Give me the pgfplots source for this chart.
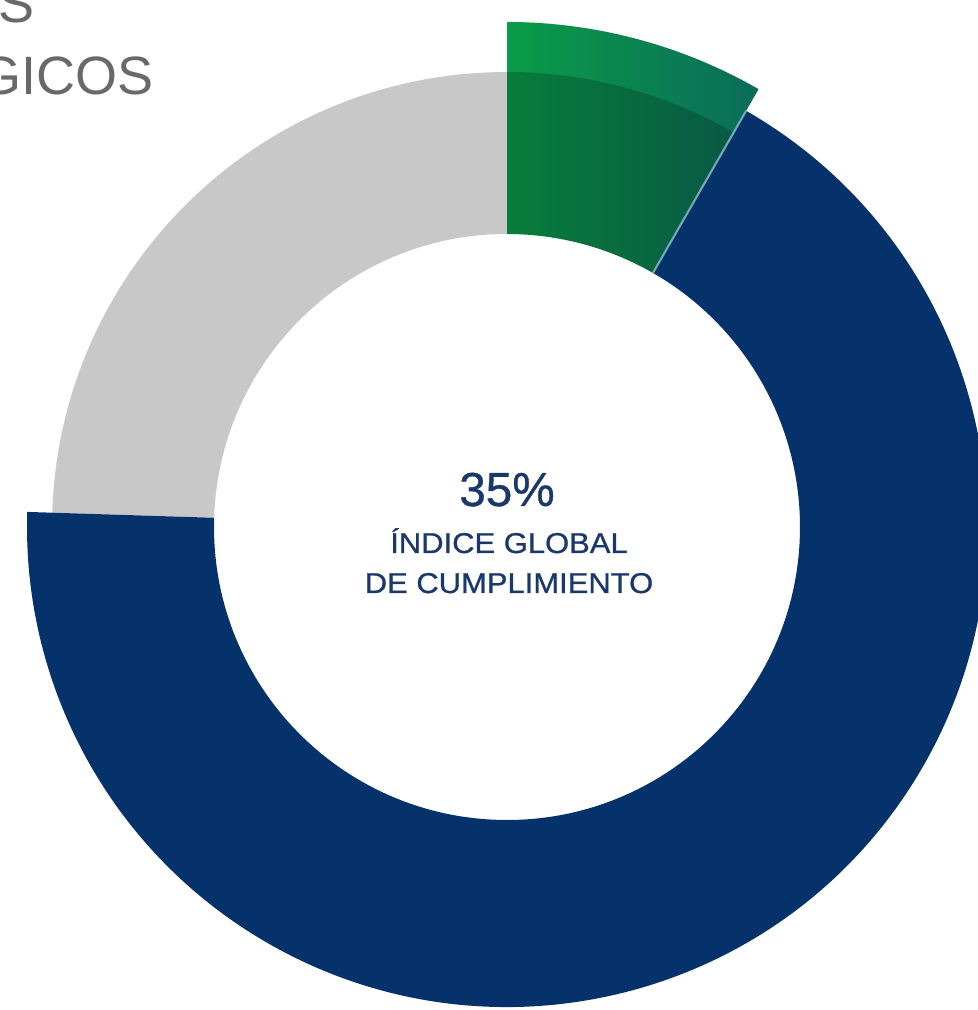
\documentclass[border=0pt]{standalone}
\usepackage{pgfplots}
\usepackage{pgfplotstable}
\pgfplotsset{compat=1.18}
\usepackage{fontspec}
\setmainfont{Liberation Sans}
\newfontfamily\medfont[FakeBold=0.8, FakeStretch=1.08]{Liberation Sans}
\newfontfamily\numfont[FakeBold=0.8]{Liberation Sans}
\definecolor{navy}{RGB}{6,50,108}
\definecolor{ringgray}{RGB}{200,200,200}
\definecolor{greenL}{RGB}{10,156,72}
\definecolor{greenR}{RGB}{10,108,88}
\definecolor{txtnavy}{RGB}{26,56,106}
\definecolor{txtgray}{RGB}{105,105,105}
\definecolor{sepline}{RGB}{120,170,190}

% segment values (percent of the ring) and radii (px units)
\pgfplotstableread{
seg   value rin rout
green 8.3   293 505
blue  67.2  293 480
gray  24.5  293 455
}\donut

\begin{document}
\begin{tikzpicture}
\pgfplotstablegetelem{0}{value}\of\donut \let\vG\pgfplotsretval
\pgfplotstablegetelem{1}{value}\of\donut \let\vB\pgfplotsretval
\pgfplotstablegetelem{2}{value}\of\donut \let\vY\pgfplotsretval
\pgfplotstablegetelem{0}{rout}\of\donut \let\rG\pgfplotsretval
\pgfplotstablegetelem{1}{rout}\of\donut \let\rB\pgfplotsretval
\pgfplotstablegetelem{2}{rout}\of\donut \let\rY\pgfplotsretval
\pgfplotstablegetelem{0}{rin}\of\donut \let\rI\pgfplotsretval
\pgfmathsetmacro\aA{90}
\pgfmathsetmacro\aB{\aA-3.6*\vG}
\pgfmathsetmacro\aC{\aB-3.6*\vB}
\pgfmathsetmacro\aD{\aC-3.6*\vY}
\pgfmathsetmacro\RI{\rI*0.3}
\pgfmathsetmacro\RG{\rG*0.3}
\pgfmathsetmacro\RB{\rB*0.3}
\pgfmathsetmacro\RY{\rY*0.3}
\path[use as bounding box] (0,0) rectangle (293.4pt,303pt);
\clip (0,0) rectangle (293.4pt,303pt);
\begin{axis}[at={(0,0)}, anchor=south west, scale only axis,
  width=293.4pt, height=303pt, hide axis,
  xmin=-507, xmax=471, ymin=-483, ymax=527, clip=false]
% gray segment
\fill[ringgray, shift={(axis cs:0,0)}] (\aC:\RY pt) arc[start angle=\aC, end angle=\aD, radius=\RY pt]
  -- (\aD:\RI pt) arc[start angle=\aD, end angle=\aC, radius=\RI pt] -- cycle;
% blue segment
\fill[navy, shift={(axis cs:0,0)}] (\aB:\RB pt) arc[start angle=\aB, end angle=\aC, radius=\RB pt]
  -- (\aC:\RI pt) arc[start angle=\aC, end angle=\aB, radius=\RI pt] -- cycle;
% green segment
\shade[left color=greenL, right color=greenR, shift={(axis cs:0,0)}] (\aA:\RG pt) arc[start angle=\aA, end angle=\aB, radius=\RG pt]
  -- (\aB:\RI pt) arc[start angle=\aB, end angle=\aA, radius=\RI pt] -- cycle;
\fill[black, opacity=0.2, shift={(axis cs:0,0)}] (\aA:\RY pt) arc[start angle=\aA, end angle=\aB, radius=\RY pt]
  -- (\aB:\RI pt) arc[start angle=\aB, end angle=\aA, radius=\RI pt] -- cycle;
\draw[sepline, line width=0.6pt, shift={(axis cs:0,0)}] (\aB:\RI pt) -- (\aB:\RB pt);
% texts
\node[anchor=base, text=txtnavy, font=\numfont\fontsize{14.3pt}{16pt}\selectfont, inner sep=0pt] at (axis cs:0,21) {35\%};
\node[anchor=base, text=txtnavy, font=\medfont\fontsize{8.6pt}{10pt}\selectfont, inner sep=0pt] at (axis cs:2,-26) {ÍNDICE GLOBAL};
\node[anchor=base, text=txtnavy, font=\medfont\fontsize{8.6pt}{10pt}\selectfont, inner sep=0pt] at (axis cs:2,-66) {DE CUMPLIMIENTO};
\node[anchor=base east, text=txtgray, font=\fontsize{16.2pt}{18pt}\selectfont, inner sep=0pt] at (axis cs:-353,432) {ESTRATÉGICOS};
\node[anchor=base east, text=txtgray, font=\fontsize{16.2pt}{18pt}\selectfont, inner sep=0pt] at (axis cs:-472,504) {OBJETIVOS};
\end{axis}
\end{tikzpicture}
\end{document}
